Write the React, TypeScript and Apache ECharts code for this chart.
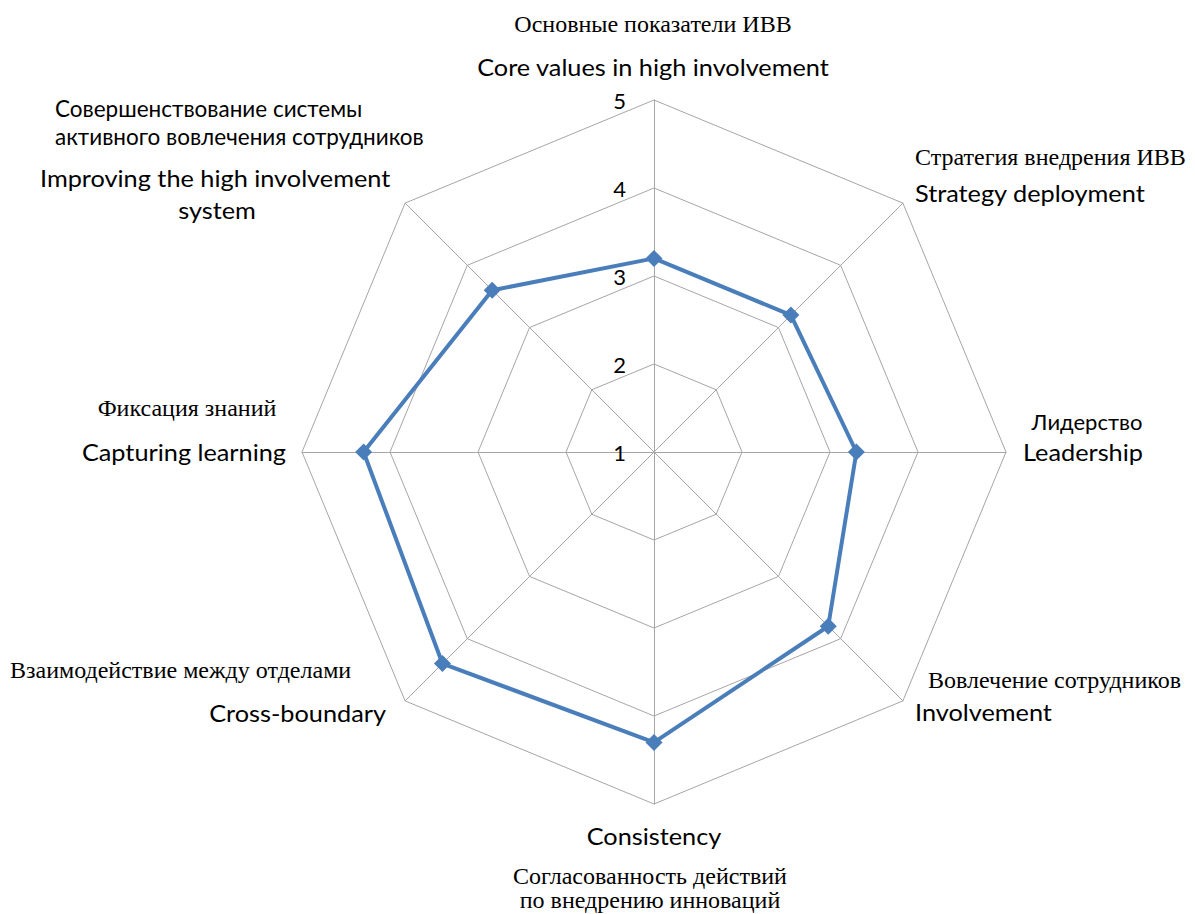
import React, { useEffect, useRef } from "react";
import * as echarts from "echarts";

// Categories in clockwise order, starting at the top
const categories = [
  "Core values in high involvement",
  "Strategy deployment",
  "Leadership",
  "Involvement",
  "Consistency",
  "Cross-boundary",
  "Capturing learning",
  "Improving the high involvement system",
];
const categoriesRu = [
  "Основные показатели ИВВ",
  "Стратегия внедрения ИВВ",
  "Лидерство",
  "Вовлечение сотрудников",
  "Согласованность действий\nпо внедрению инноваций",
  "Взаимодействие между отделами",
  "Фиксация знаний",
  "Совершенствование системы\nактивного вовлечения сотрудников",
];
const values = [3.2, 3.2, 3.3, 3.8, 4.3, 4.4, 4.3, 3.6];
const tickLabels = ["1", "2", "3", "4", "5"];
const axisMin = 1;
const axisMax = 5;

const SERIF = "'Liberation Serif', 'Times New Roman', serif";
const SANS = "Lato, 'Noto Sans', 'Open Sans', sans-serif";

type Lbl = {
  text: string;
  x: number;
  y: number;
  align: string;
  size: number;
  family: string;
  sx?: number;
  lh?: number;
};

function buildLabels(): Lbl[] {
  const ru = categoriesRu;
  const en = categories;
  return [
    { text: ru[0], x: 653, y: 24, align: "center", size: 24, family: SERIF },
    { text: en[0], x: 653, y: 67, align: "center", size: 23, family: SANS, sx: 1.1 },
    { text: ru[1], x: 915, y: 157, align: "left", size: 24, family: SERIF },
    { text: en[1], x: 915, y: 193, align: "left", size: 23, family: SANS, sx: 1.1 },
    { text: ru[2], x: 1087, y: 421, align: "center", size: 22, family: SANS },
    { text: en[2], x: 1083, y: 452, align: "center", size: 23, family: SANS, sx: 1.1 },
    { text: ru[3], x: 928, y: 680, align: "left", size: 24, family: SERIF },
    { text: en[3], x: 915, y: 712, align: "left", size: 23, family: SANS, sx: 1.1 },
    { text: en[4], x: 654, y: 836, align: "center", size: 23, family: SANS, sx: 1.1 },
    { text: ru[4], x: 650, y: 888, align: "center", size: 24, family: SERIF, lh: 24 },
    { text: ru[5], x: 10, y: 670, align: "left", size: 24, family: SERIF },
    { text: en[5], x: 386, y: 713, align: "right", size: 23, family: SANS, sx: 1.1 },
    { text: ru[6], x: 187, y: 408, align: "center", size: 24, family: SERIF },
    { text: en[6], x: 286, y: 452, align: "right", size: 23, family: SANS, sx: 1.1 },
    { text: ru[7], x: 55, y: 122, align: "left", size: 22.5, family: SANS, lh: 28 },
    { text: "Improving the high involvement", x: 40, y: 178, align: "left", size: 23, family: SANS, sx: 1.1 },
    { text: "system", x: 217, y: 210, align: "center", size: 23, family: SANS, sx: 1.1 },
  ];
}

export default function App() {
  const ref = useRef<HTMLDivElement>(null);
  useEffect(() => {
    document.body.style.margin = "0";
    if (!ref.current) return;
    const chart = echarts.init(ref.current, undefined, { renderer: "svg" });
    // ECharts radar runs counter-clockwise: reorder so the picture reads clockwise
    const order = categories.map((_, i) => (i === 0 ? 0 : categories.length - i));
    const indicator = order.map((i, k) => {
      const ind: any = { name: categories[i], min: axisMin, max: axisMax };
      if (k === 0) {
        ind.axisLabel = {
          show: true,
          formatter: (v: number) => tickLabels[Math.round(v - axisMin)] ?? "",
          color: "#000",
          fontSize: 22,
          fontFamily: SANS,
          margin: 28,
        };
      }
      return ind;
    });
    const labels = buildLabels();
    chart.setOption({
      animation: false,
      backgroundColor: "#fff",
      radar: {
        center: [654, 452],
        radius: 352,
        startAngle: 90,
        shape: "polygon",
        splitNumber: axisMax - axisMin,
        indicator,
        axisName: { show: false },
        axisLine: { show: true, lineStyle: { color: "#a6a6a6", width: 1 } },
        splitLine: { show: true, lineStyle: { color: "#a6a6a6", width: 1 } },
        splitArea: { show: false },
        axisTick: { show: false },
        axisLabel: { show: false },
      },
      series: [
        {
          type: "radar",
          symbol: "diamond",
          symbolSize: 17,
          lineStyle: { color: "#4a7ebb", width: 4 },
          itemStyle: { color: "#4a7ebb" },
          data: [{ value: order.map((i) => values[i]), name: "score" }],
        },
      ],
      graphic: labels.map((l) => ({
        type: "text",
        x: l.x,
        y: l.y,
        scaleX: l.sx ?? 1,
        style: {
          text: l.text,
          fill: "#000",
          font: `${l.size}px ${l.family}`,
          fontSize: l.size,
          fontFamily: l.family,
          lineHeight: l.lh,
          textAlign: l.align,
          align: l.align,
          textVerticalAlign: "middle",
          verticalAlign: "middle",
        },
      })),
    });
    return () => chart.dispose();
  }, []);
  return <div ref={ref} style={{ width: 1195, height: 914 }} />;
}
